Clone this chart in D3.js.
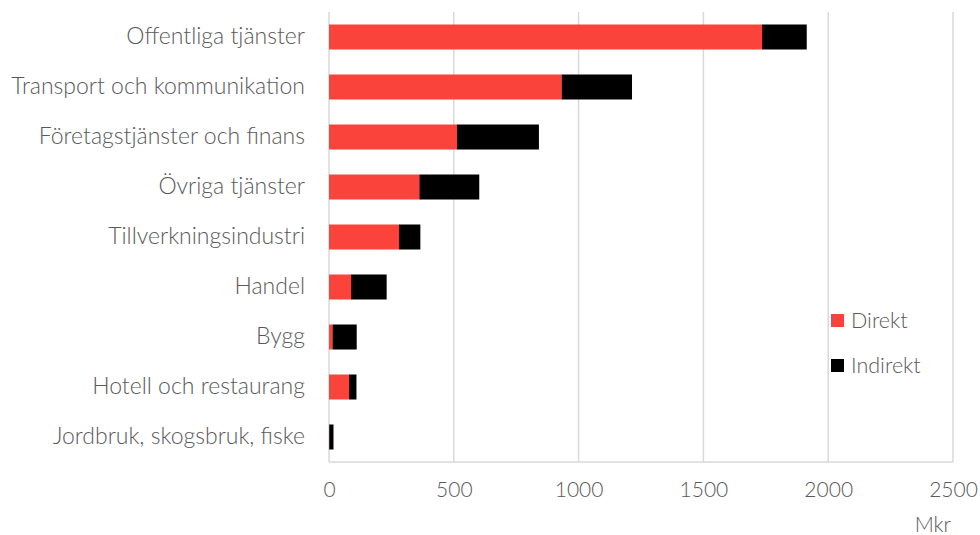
<!DOCTYPE html>
<html>
<head>
<meta charset="utf-8">
<script src="https://cdn.jsdelivr.net/npm/d3@7"></script>
<style>
  html, body { margin: 0; padding: 0; background: #fff; }
  svg text { font-family: Lato, "Open Sans", sans-serif; font-weight: 300; fill: #595959; }
</style>
</head>
<body>
<svg id="chart" width="980" height="535"></svg>
<script>
// Sectors, top to bottom
const categories = [
  "Offentliga tjänster",
  "Transport och kommunikation",
  "Företagstjänster och finans",
  "Övriga tjänster",
  "Tillverkningsindustri",
  "Handel",
  "Bygg",
  "Hotell och restaurang",
  "Jordbruk, skogsbruk, fiske"
];
// Direct and indirect effects, Mkr
const direkt   = [1735, 932, 512, 362, 280, 88, 14, 80, 1];
const indirekt = [179, 282, 329, 240, 86, 143, 97, 30, 17];
const seriesNames = ["Direkt", "Indirekt"];
const seriesColors = ["#FA433A", "#000000"];
const xTicks = [0, 500, 1000, 1500, 2000, 2500];
const unitLabel = "Mkr";

const svg = d3.select("#chart");
const margin = { left: 329, right: 27, top: 12, bottom: 73 };
const W = 980, H = 535;

const x = d3.scaleLinear().domain([0, 2500]).range([margin.left, W - margin.right]);
const y = d3.scaleBand().domain(categories).range([margin.top, H - margin.bottom])
  .paddingInner(0.5).paddingOuter(0.25);

// Vertical gridlines
svg.append("g")
  .selectAll("line")
  .data(xTicks)
  .join("line")
  .attr("x1", d => x(d)).attr("x2", d => x(d))
  .attr("y1", margin.top).attr("y2", H - margin.bottom)
  .attr("stroke", "#d9d9d9").attr("stroke-width", 1.5);

// Baseline
svg.append("line")
  .attr("x1", x(0)).attr("x2", x(2500))
  .attr("y1", H - margin.bottom).attr("y2", H - margin.bottom)
  .attr("stroke", "#d9d9d9").attr("stroke-width", 1.5);

// Stacked bars
const rows = categories.map((c, i) => ({ cat: c, Direkt: direkt[i], Indirekt: indirekt[i] }));
const stack = d3.stack().keys(seriesNames)(rows);
svg.append("g")
  .selectAll("g")
  .data(stack)
  .join("g")
  .attr("fill", (d, i) => seriesColors[i])
  .selectAll("rect")
  .data(d => d)
  .join("rect")
  .attr("x", d => x(d[0]))
  .attr("width", d => x(d[1]) - x(d[0]))
  .attr("y", d => y(d.data.cat))
  .attr("height", y.bandwidth());

// Category labels
const yAxis = d3.axisLeft(y).tickSize(0).tickPadding(24);
const gy = svg.append("g").attr("transform", `translate(${margin.left},0)`).call(yAxis);
gy.select(".domain").remove();
gy.selectAll("text").attr("font-size", 23).attr("font-family", null);

// Value axis labels
const xAxis = d3.axisBottom(x).tickValues(xTicks).tickSize(0).tickPadding(20).tickFormat(d3.format("d"));
const gx = svg.append("g").attr("transform", `translate(0,${H - margin.bottom})`).call(xAxis);
gx.select(".domain").remove();
gx.selectAll("text").attr("font-size", 21).attr("font-family", null);

svg.append("text")
  .attr("x", x(2500) - 2).attr("y", 532)
  .attr("text-anchor", "end")
  .attr("font-size", 21)
  .text(unitLabel);

// Legend
const legend = svg.append("g").attr("transform", "translate(831,314)");
const li = legend.selectAll("g").data(seriesNames).join("g")
  .attr("transform", (d, i) => `translate(0,${i * 45})`);
li.append("rect").attr("width", 13).attr("height", 13).attr("fill", (d, i) => seriesColors[i]);
li.append("text").attr("x", 20).attr("y", 13.5).attr("font-size", 21.5).text(d => d);
</script>
</body>
</html>
